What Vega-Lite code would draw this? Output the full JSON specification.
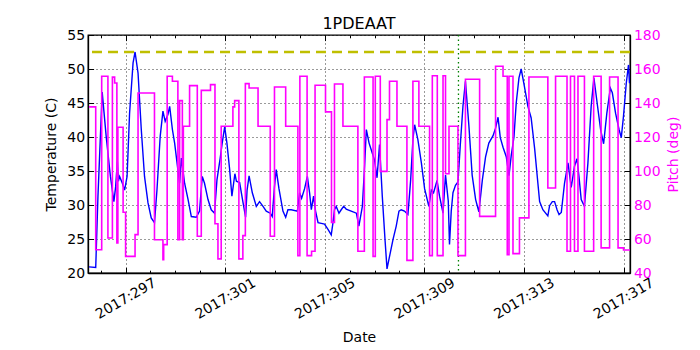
{
 "$schema": "https://vega.github.io/schema/vega-lite/v6.json",
 "width": 542, "height": 238,
 "autosize": {"type": "none"},
 "padding": {"left": 88, "top": 35, "right": 70, "bottom": 77},
 "background": "white",
 "title": {"text": "1PDEAAT", "fontSize": 16, "fontWeight": "normal", "font": "DejaVu Sans", "color": "black", "offset": -4},
 "config": {
  "font": "DejaVu Sans",
  "view": {"stroke": "black", "strokeWidth": 1.3},
  "axis": {"labelFont": "DejaVu Sans", "titleFont": "DejaVu Sans", "labelFontSize": 14, "titleFontSize": 14, "titleFontWeight": "normal", "labelColor": "black", "titleColor": "black", "domainColor": "black", "domainWidth": 1.3, "tickColor": "black", "gridColor": "black", "gridDash": [1, 3], "gridOpacity": 1, "gridWidth": 0.8, "tickSize": -5.6, "labelOverlap": false}
 },
 "datasets": {
  "temp": [
{"day":295.53,"temp":20.9},{"day":295.80,"temp":20.8},{"day":295.89,"temp":31.3},{"day":296.06,"temp":46.6},{"day":296.22,"temp":40.1},{"day":296.39,"temp":34.2},{"day":296.53,"temp":30.5},{"day":296.60,"temp":32.7},{"day":296.67,"temp":36.4},{"day":296.71,"temp":33.5},{"day":296.76,"temp":34.2},{"day":296.87,"temp":33.2},{"day":296.96,"temp":32.2},{"day":297.06,"temp":34.2},{"day":297.16,"temp":43.5},{"day":297.30,"temp":50.9},{"day":297.38,"temp":52.5},{"day":297.50,"temp":49.4},{"day":297.63,"temp":41.1},{"day":297.76,"temp":34.2},{"day":297.90,"temp":30.3},{"day":298.03,"temp":28.1},{"day":298.16,"temp":27.4},{"day":298.26,"temp":32.2},{"day":298.39,"temp":40.1},{"day":298.50,"temp":43.8},{"day":298.59,"temp":42.3},{"day":298.70,"temp":43.3},{"day":298.77,"temp":44.5},{"day":298.88,"temp":41.1},{"day":298.97,"temp":39.1},{"day":299.10,"temp":35.2},{"day":299.17,"temp":33.2},{"day":299.24,"temp":36.9},{"day":299.37,"temp":33.2},{"day":299.51,"temp":30.8},{"day":299.64,"temp":28.3},{"day":299.84,"temp":28.2},{"day":299.97,"temp":29.1},{"day":300.08,"temp":34.2},{"day":300.17,"temp":33.2},{"day":300.31,"temp":30.8},{"day":300.44,"temp":29.3},{"day":300.57,"temp":28.8},{"day":300.67,"temp":33.7},{"day":300.80,"temp":36.9},{"day":300.88,"temp":39.1},{"day":300.98,"temp":41.5},{"day":301.07,"temp":39.1},{"day":301.18,"temp":35.2},{"day":301.27,"temp":31.3},{"day":301.39,"temp":34.6},{"day":301.45,"temp":33.5},{"day":301.58,"temp":33.3},{"day":301.71,"temp":30.5},{"day":301.82,"temp":28.2},{"day":301.88,"temp":32.2},{"day":301.96,"temp":34.3},{"day":302.09,"temp":31.8},{"day":302.25,"temp":29.8},{"day":302.38,"temp":30.5},{"day":302.52,"temp":29.8},{"day":302.65,"temp":29.1},{"day":302.81,"temp":28.8},{"day":302.89,"temp":28.3},{"day":302.98,"temp":32.7},{"day":303.05,"temp":35.2},{"day":303.16,"temp":32.4},{"day":303.32,"temp":29.1},{"day":303.43,"temp":28.2},{"day":303.52,"temp":29.3},{"day":303.65,"temp":29.3},{"day":303.90,"temp":29.1},{"day":303.99,"temp":31.8},{"day":304.07,"temp":31.0},{"day":304.19,"temp":32.4},{"day":304.30,"temp":34.2},{"day":304.39,"temp":31.8},{"day":304.46,"temp":29.3},{"day":304.55,"temp":31.3},{"day":304.63,"temp":29.1},{"day":304.73,"temp":27.4},{"day":304.86,"temp":27.3},{"day":304.99,"temp":27.2},{"day":305.13,"temp":26.4},{"day":305.26,"temp":25.6},{"day":305.33,"temp":27.4},{"day":305.39,"temp":29.3},{"day":305.46,"temp":29.8},{"day":305.57,"temp":28.8},{"day":305.66,"temp":29.3},{"day":305.76,"temp":29.8},{"day":305.86,"temp":29.4},{"day":306.06,"temp":29.1},{"day":306.27,"temp":28.8},{"day":306.37,"temp":26.9},{"day":306.51,"temp":29.8},{"day":306.60,"temp":35.7},{"day":306.67,"temp":41.1},{"day":306.78,"temp":39.1},{"day":306.91,"temp":37.6},{"day":307.00,"temp":36.6},{"day":307.10,"temp":34.0},{"day":307.20,"temp":38.9},{"day":307.31,"temp":31.3},{"day":307.42,"temp":24.9},{"day":307.50,"temp":20.6},{"day":307.60,"temp":22.4},{"day":307.74,"temp":24.9},{"day":307.87,"temp":26.9},{"day":307.98,"temp":29.1},{"day":308.07,"temp":29.3},{"day":308.20,"temp":29.1},{"day":308.34,"temp":28.6},{"day":308.45,"temp":33.7},{"day":308.54,"temp":39.6},{"day":308.61,"temp":41.8},{"day":308.74,"temp":39.6},{"day":308.88,"temp":36.2},{"day":309.01,"temp":32.4},{"day":309.18,"temp":29.8},{"day":309.28,"temp":32.2},{"day":309.37,"temp":31.8},{"day":309.51,"temp":33.6},{"day":309.61,"temp":31.3},{"day":309.75,"temp":28.8},{"day":309.85,"temp":34.4},{"day":309.96,"temp":30.6},{"day":310.01,"temp":24.2},{"day":310.08,"temp":29.1},{"day":310.15,"temp":31.8},{"day":310.25,"temp":32.9},{"day":310.35,"temp":33.4},{"day":310.44,"temp":38.6},{"day":310.55,"temp":44.5},{"day":310.65,"temp":48.2},{"day":310.79,"temp":41.6},{"day":310.92,"temp":34.4},{"day":311.06,"temp":30.8},{"day":311.19,"temp":29.0},{"day":311.33,"temp":33.7},{"day":311.46,"temp":37.1},{"day":311.59,"temp":39.1},{"day":311.76,"temp":40.2},{"day":311.86,"temp":41.3},{"day":311.96,"temp":42.9},{"day":312.05,"temp":39.9},{"day":312.16,"temp":38.5},{"day":312.29,"temp":37.1},{"day":312.40,"temp":34.3},{"day":312.49,"temp":37.3},{"day":312.60,"temp":40.0},{"day":312.69,"temp":45.0},{"day":312.80,"temp":48.7},{"day":312.89,"temp":50.0},{"day":313.02,"temp":47.4},{"day":313.16,"temp":44.5},{"day":313.29,"temp":42.8},{"day":313.43,"temp":38.3},{"day":313.56,"temp":33.2},{"day":313.63,"temp":30.5},{"day":313.76,"temp":29.3},{"day":313.96,"temp":28.4},{"day":314.03,"temp":29.9},{"day":314.14,"temp":30.5},{"day":314.23,"temp":30.5},{"day":314.33,"temp":29.3},{"day":314.41,"temp":28.6},{"day":314.50,"temp":28.9},{"day":314.63,"temp":33.2},{"day":314.77,"temp":36.2},{"day":314.90,"temp":32.6},{"day":315.03,"temp":35.7},{"day":315.13,"temp":36.8},{"day":315.21,"temp":34.2},{"day":315.30,"temp":30.8},{"day":315.43,"temp":29.8},{"day":315.57,"temp":36.2},{"day":315.70,"temp":44.5},{"day":315.81,"temp":48.7},{"day":315.94,"temp":45.0},{"day":316.08,"temp":41.1},{"day":316.20,"temp":39.0},{"day":316.33,"temp":43.5},{"day":316.47,"temp":47.2},{"day":316.55,"temp":46.5},{"day":316.68,"temp":43.5},{"day":316.82,"temp":41.1},{"day":316.91,"temp":39.9},{"day":317.00,"temp":43.1},{"day":317.11,"temp":47.9},{"day":317.20,"temp":50.6},{"day":317.24,"temp":47.9}
  ],
  "pitch": [
{"day":295.53,"pitch":137.7},{"day":295.80,"pitch":53.7},{"day":296.04,"pitch":155.7},{"day":296.29,"pitch":60.6},{"day":296.47,"pitch":155.2},{"day":296.56,"pitch":151.8},{"day":296.65,"pitch":57.7},{"day":296.69,"pitch":125.7},{"day":296.90,"pitch":75.7},{"day":297.00,"pitch":49.8},{"day":297.38,"pitch":62.6},{"day":297.50,"pitch":145.9},{"day":298.16,"pitch":59.6},{"day":298.50,"pitch":47.8},{"day":298.53,"pitch":56.7},{"day":298.67,"pitch":155.7},{"day":298.88,"pitch":152.8},{"day":299.10,"pitch":59.6},{"day":299.17,"pitch":141.4},{"day":299.28,"pitch":59.6},{"day":299.32,"pitch":126.3},{"day":299.57,"pitch":150.2},{"day":299.88,"pitch":61.6},{"day":300.04,"pitch":147.4},{"day":300.41,"pitch":150.8},{"day":300.59,"pitch":69.0},{"day":300.71,"pitch":48.3},{"day":300.84,"pitch":126.3},{"day":301.31,"pitch":137.7},{"day":301.38,"pitch":141.4},{"day":301.55,"pitch":48.3},{"day":301.71,"pitch":62.0},{"day":301.81,"pitch":151.4},{"day":301.96,"pitch":148.8},{"day":302.32,"pitch":126.3},{"day":302.81,"pitch":61.6},{"day":302.98,"pitch":149.4},{"day":303.43,"pitch":126.3},{"day":303.92,"pitch":50.2},{"day":304.00,"pitch":155.7},{"day":304.29,"pitch":50.2},{"day":304.47,"pitch":52.8},{"day":304.61,"pitch":150.4},{"day":305.03,"pitch":134.8},{"day":305.27,"pitch":69.8},{"day":305.39,"pitch":151.2},{"day":305.73,"pitch":126.3},{"day":306.33,"pitch":52.8},{"day":306.59,"pitch":155.3},{"day":306.94,"pitch":49.8},{"day":307.03,"pitch":155.7},{"day":307.23,"pitch":99.8},{"day":307.50,"pitch":130.2},{"day":307.60,"pitch":152.8},{"day":307.90,"pitch":126.3},{"day":308.30,"pitch":47.4},{"day":308.54,"pitch":152.8},{"day":308.78,"pitch":126.3},{"day":309.21,"pitch":50.2},{"day":309.32,"pitch":156.0},{"day":309.52,"pitch":50.2},{"day":309.75,"pitch":156.0},{"day":309.85,"pitch":98.4},{"day":309.99,"pitch":126.3},{"day":310.35,"pitch":50.2},{"day":310.65,"pitch":154.0},{"day":311.22,"pitch":73.3},{"day":311.86,"pitch":161.6},{"day":312.16,"pitch":155.7},{"day":312.33,"pitch":50.8},{"day":312.40,"pitch":155.7},{"day":312.56,"pitch":51.4},{"day":312.82,"pitch":72.4},{"day":313.20,"pitch":155.3},{"day":313.96,"pitch":90.0},{"day":314.27,"pitch":155.7},{"day":314.73,"pitch":52.8},{"day":314.87,"pitch":155.7},{"day":315.03,"pitch":52.8},{"day":315.17,"pitch":155.7},{"day":315.43,"pitch":52.8},{"day":315.80,"pitch":155.7},{"day":316.10,"pitch":54.8},{"day":316.44,"pitch":155.3},{"day":316.78,"pitch":54.8},{"day":317.00,"pitch":53.5},{"day":317.26,"pitch":53.5}
  ],
  "limit": [{"temp": 52.5}],
  "event": [{"day": 310.37}]
 },
 "layer": [
  {
   "layer": [
    {
     "data": {"name": "temp"},
     "mark": {"type": "line", "color": "#0000ff", "strokeWidth": 1.4, "clip": true},
     "encoding": {
      "x": {"field": "day", "type": "quantitative", "scale": {"domain": [295.49, 317.26], "nice": false, "zero": false},
            "axis": {"title": "Date", "values": [296, 297, 298, 299, 300, 301, 302, 303, 304, 305, 306, 307, 308, 309, 310, 311, 312, 313, 314, 315, 316, 317], "labelExpr": "datum.value % 4 == 1 ? '2017:' + datum.value : ''", "labelAngle": -30, "labelAlign": "center", "labelBaseline": "middle", "labelPadding": 31, "labelFlush": false, "grid": true, "gridOpacity": {"condition": {"test": "datum.value % 4 == 1", "value": 1}, "value": 0}, "tickSize": {"condition": {"test": "datum.value % 4 == 1", "value": -5.6}, "value": -2.8}, "titleY": 64, "titleBaseline": "middle"}},
      "y": {"field": "temp", "type": "quantitative", "scale": {"domain": [20, 55], "nice": false, "zero": false},
            "axis": {"title": "Temperature (C)", "values": [20, 25, 30, 35, 40, 45, 50, 55], "grid": true, "labelPadding": 9, "titleX": -37, "titleBaseline": "middle"}}
     }
    },
    {
     "data": {"name": "limit"},
     "mark": {"type": "rule", "color": "#bfbf00", "strokeWidth": 2.6, "strokeDash": [10, 6]},
     "encoding": {"y": {"field": "temp", "type": "quantitative", "scale": {"domain": [20, 55], "nice": false, "zero": false},
            "axis": {"title": "Temperature (C)", "values": [20, 25, 30, 35, 40, 45, 50, 55], "grid": true, "labelPadding": 9, "titleX": -37, "titleBaseline": "middle"}}}
    },
    {
     "data": {"name": "event"},
     "mark": {"type": "rule", "color": "#008000", "strokeWidth": 1.3, "strokeDash": [1.5, 3]},
     "encoding": {"x": {"field": "day", "type": "quantitative", "scale": {"domain": [295.49, 317.26], "nice": false, "zero": false},
            "axis": {"title": "Date", "values": [296, 297, 298, 299, 300, 301, 302, 303, 304, 305, 306, 307, 308, 309, 310, 311, 312, 313, 314, 315, 316, 317], "labelExpr": "datum.value % 4 == 1 ? '2017:' + datum.value : ''", "labelAngle": -30, "labelAlign": "center", "labelBaseline": "middle", "labelPadding": 31, "labelFlush": false, "grid": true, "gridOpacity": {"condition": {"test": "datum.value % 4 == 1", "value": 1}, "value": 0}, "tickSize": {"condition": {"test": "datum.value % 4 == 1", "value": -5.6}, "value": -2.8}, "titleY": 64, "titleBaseline": "middle"}}}
    }
   ]
  },
  {
   "data": {"name": "pitch"},
   "mark": {"type": "line", "color": "#ff00ff", "strokeWidth": 1.6, "interpolate": "step-after", "clip": true},
   "encoding": {
    "x": {"field": "day", "type": "quantitative", "scale": {"domain": [295.49, 317.26], "nice": false, "zero": false},
          "axis": {"orient": "top", "title": null, "labels": false, "grid": false, "domain": false, "values": [296, 297, 298, 299, 300, 301, 302, 303, 304, 305, 306, 307, 308, 309, 310, 311, 312, 313, 314, 315, 316, 317], "tickSize": {"condition": {"test": "datum.value % 4 == 1", "value": -5.6}, "value": -2.8}}},
    "y": {"field": "pitch", "type": "quantitative", "scale": {"domain": [40, 180], "nice": false, "zero": false},
          "axis": {"orient": "right", "title": "Pitch (deg)", "values": [40, 60, 80, 100, 120, 140, 160, 180], "grid": false, "labelPadding": 9, "labelColor": "#ff00ff", "titleColor": "#ff00ff", "titleAngle": -90, "titleX": 43, "titleBaseline": "middle"}}
   }
  }
 ],
 "resolve": {"scale": {"y": "independent"}, "axis": {"x": "independent"}}
}
